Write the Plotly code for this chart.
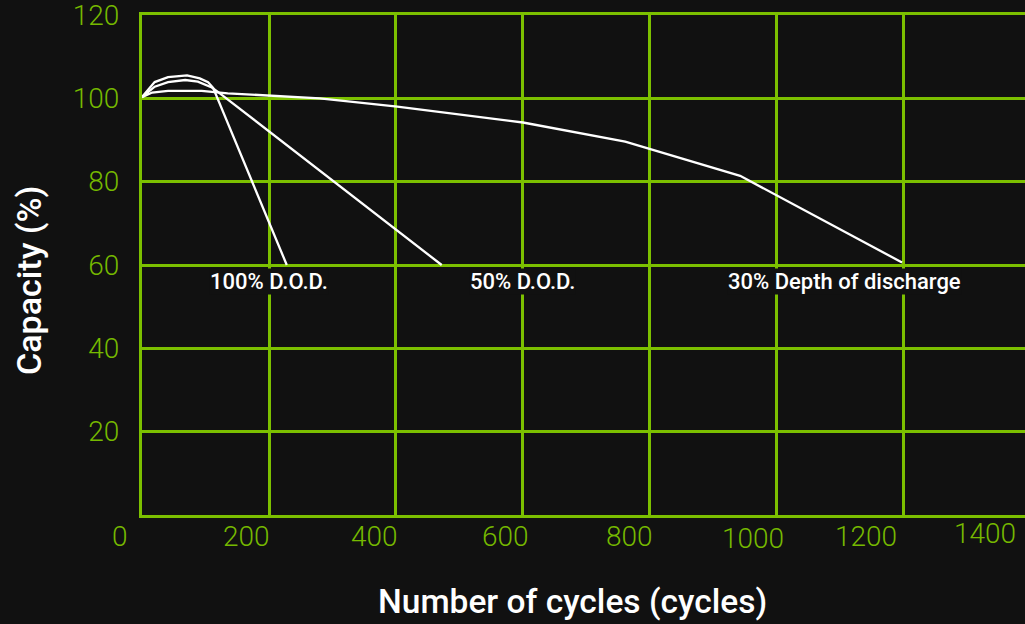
import plotly.graph_objects as go

# ---- data ----
cycles_100 = [0, 20, 41, 71, 91, 104, 112, 228]
capacity_100 = [100.3, 103.9, 105.1, 105.5, 104.8, 103.9, 102.5, 60.0]

cycles_50 = [0, 20, 41, 68, 88, 110, 120, 472]
capacity_50 = [100.3, 102.8, 103.9, 104.4, 104.0, 102.6, 101.5, 60.0]

cycles_30 = [0, 16, 41, 68, 94, 135, 202, 280, 402, 600, 761, 942, 1197]
capacity_30 = [100.3, 101.4, 101.8, 101.8, 101.8, 101.2, 100.6, 100.0, 98.0, 94.2, 89.6, 81.4, 60.6]

curve_labels = ["100% D.O.D.", "50% D.O.D.", "30% Depth of discharge"]
curve_label_x = [200, 600, 1107]
curve_label_y = 56.0

x_tick_values = [0, 200, 400, 600, 800, 1000, 1200, 1400]
x_tick_text = ["0", "200", "400", "600", "800", "1000", "1200", "1400"]
# pixel nudges of the hand-placed x labels
x_tick_shift = [-22, -22, -21, -17, -20, -24, -38, -46]
x_tick_yshift = [0, 0, 0, 0, 0, -2, 0, 3]

y_tick_values = [20, 40, 60, 80, 100, 120]

GREEN = "#76b900"
GRID = "#7cc000"
BG = "#111111"

W, H = 1025, 624
ML, MR, MT, MB = 142, 0, 15, 109
pw, ph = W - ML - MR, H - MT - MB
X_MAX = 1390.6

fig = go.Figure()
for xs, ys in [(cycles_100, capacity_100), (cycles_50, capacity_50), (cycles_30, capacity_30)]:
    fig.add_trace(go.Scatter(x=xs, y=ys, mode="lines",
                             line=dict(color="white", width=2.3),
                             showlegend=False, hoverinfo="skip"))

annotations = []
for lbl, lx in zip(curve_labels, curve_label_x):
    annotations.append(dict(x=lx, y=curve_label_y, xref="x", yref="y", text=lbl,
                            showarrow=False, bgcolor=BG, borderpad=0,
                            font=dict(family="Roboto", size=22, color="white", weight=500)))

for v, t, sx, sy in zip(x_tick_values, x_tick_text, x_tick_shift, x_tick_yshift):
    annotations.append(dict(x=v / X_MAX, y=0, xref="paper", yref="paper", text=t, showarrow=False,
                            xanchor="center", yanchor="middle", xshift=sx, yshift=-21 + sy,
                            font=dict(family="Roboto", size=28, color=GREEN, weight=300)))

title_annots = [
    dict(x=29, y=280, text="Capacity (%)", textangle=-90, size=34),
    dict(x=572, y=601, text="Number of cycles (cycles)", textangle=0, size=33.5),
]
for a in title_annots:
    annotations.append(dict(x=(a["x"] - ML) / pw, y=(H - MB - a["y"]) / ph,
                            xref="paper", yref="paper", text=a["text"], textangle=a["textangle"],
                            showarrow=False, xanchor="center", yanchor="middle",
                            font=dict(family="Roboto", size=a["size"], color="white", weight=500)))

fig.update_layout(
    width=W, height=H,
    margin=dict(l=ML, r=MR, t=MT, b=MB),
    paper_bgcolor=BG, plot_bgcolor=BG,
    annotations=annotations,
    xaxis=dict(range=[0, X_MAX], tickvals=x_tick_values[:-1], showticklabels=False,
               showgrid=True, gridcolor=GRID, gridwidth=3, zeroline=False,
               showline=True, mirror=True, linecolor=GRID, linewidth=3, ticks=""),
    yaxis=dict(range=[0, 120], tickvals=y_tick_values, showgrid=True, gridcolor=GRID,
               gridwidth=3, zeroline=False, showline=True, linecolor=GRID, linewidth=3,
               ticks="", ticklabelstandoff=14, ticklabeloverflow="allow",
               tickfont=dict(family="Roboto", size=28, color=GREEN, weight=300)),
)

fig.write_html("out.html", config={"displayModeBar": False},
               post_script="document.body.style.margin='0px';")
